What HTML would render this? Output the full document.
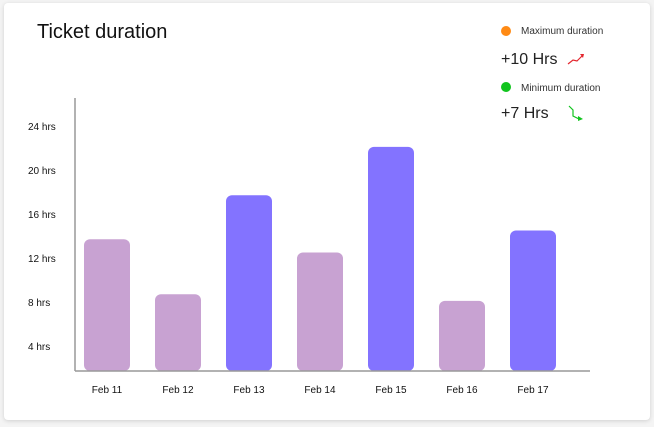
<!DOCTYPE html>
<html><head><meta charset="utf-8"><style>
body{margin:0;background:#f4f4f4;width:654px;height:427px;overflow:hidden;font-family:"Liberation Sans",sans-serif}
#card{position:absolute;left:4px;top:3px;width:646px;height:417px;background:#fff;border-radius:4px;box-shadow:0 1px 4px rgba(0,0,0,.15)}
</style></head><body>
<div id="card"></div>
<svg id="chart" width="654" height="427" style="position:absolute;left:0;top:0">
<text x="37" y="38" font-size="20" fill="#111">Ticket duration</text>
<g>
<circle cx="506" cy="31" r="5" fill="#ff8a14"/>
<text x="521" y="34" font-size="10" fill="#333">Maximum duration</text>
<text x="501" y="64" font-size="16" fill="#222">+10 Hrs</text>
<path d="M568 64 l5 -4 l4 1 l6 -6" stroke="#e3262e" stroke-width="1.2" fill="none"/>
<path d="M580 54 l4 0 l-1 4 z" fill="#e3262e"/>
<circle cx="506" cy="87" r="5" fill="#11c41e"/>
<text x="521" y="91" font-size="10" fill="#333">Minimum duration</text>
<text x="501" y="118" font-size="16" fill="#222">+7 Hrs</text>
<path d="M569 106 l4 4 l0 6 l6 3" stroke="#11c41e" stroke-width="1.2" fill="none"/>
<path d="M578 116 l5 3 l-5 2 z" fill="#11c41e"/>
</g>
<g id="ticks"></g><g id="bars"></g><g id="xlabels"></g>
<line x1="75" y1="98" x2="75" y2="371" stroke="#999" stroke-width="1.5"/>
<line x1="75" y1="371" x2="590" y2="371" stroke="#999" stroke-width="1.5"/>
</svg>
<script>
const categories=["Feb 11","Feb 12","Feb 13","Feb 14","Feb 15","Feb 16","Feb 17"];
const values=[13.7,8.7,17.7,12.5,22.1,8.1,14.5];
const highlight=[false,false,true,false,true,false,true];
const tickValues=[4,8,12,16,20,24];
const tickLabels=["4 hrs","8 hrs","12 hrs","16 hrs","20 hrs","24 hrs"];
const NS="http://www.w3.org/2000/svg";
function y(v){return 390-11*v;}
function x(i){return 107+71*i;}
const bars=document.getElementById('bars'),ticks=document.getElementById('ticks'),xl=document.getElementById('xlabels');
tickValues.forEach((v,i)=>{const t=document.createElementNS(NS,'text');t.setAttribute('x',28);t.setAttribute('y',y(v)+4);t.setAttribute('font-size','10');t.setAttribute('fill','#111');t.textContent=tickLabels[i];


ticks.appendChild(t);});
categories.forEach((c,i)=>{const top=y(values[i]);const r=document.createElementNS(NS,'rect');r.setAttribute('x',x(i)-23);r.setAttribute('y',top);r.setAttribute('width',46);r.setAttribute('height',371-top);r.setAttribute('rx',6);r.setAttribute('fill',highlight[i]?'#8373ff':'#c8a2d2');


bars.appendChild(r);
const t=document.createElementNS(NS,'text');t.setAttribute('x',x(i));t.setAttribute('y',393);t.setAttribute('font-size','10');t.setAttribute('text-anchor','middle');t.setAttribute('fill','#111');t.textContent=c;


xl.appendChild(t);});
</script>
</body></html>
